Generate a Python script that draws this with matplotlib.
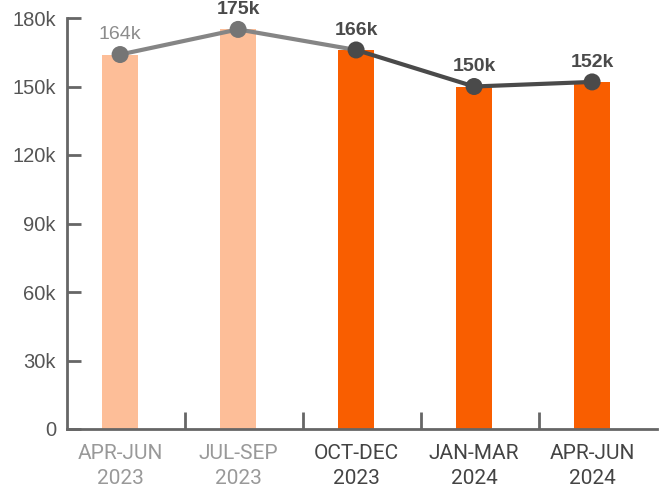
import numpy as np
import matplotlib.pyplot as plt

categories = ["APR-JUN\n2023", "JUL-SEP\n2023", "OCT-DEC\n2023", "JAN-MAR\n2024", "APR-JUN\n2024"]
values = [164000, 175000, 166000, 150000, 152000]
value_labels = ["164k", "175k", "166k", "150k", "152k"]
y_ticks = [0, 30000, 60000, 90000, 120000, 150000, 180000]
y_tick_labels = ["0", "30k", "60k", "90k", "120k", "150k", "180k"]

light = "#FDBE98"
dark = "#F95E00"
bar_colors = [light, light, dark, dark, dark]
label_colors = ["#999999", "#999999", "#444444", "#444444", "#444444"]

plt.rcParams['font.family'] = ['Liberation Sans', 'DejaVu Sans']

fig = plt.figure(figsize=(6.61, 4.91), dpi=100)
ax = fig.add_axes([67 / 661, 1 - 429 / 491, 590 / 661, 411 / 491])

x = np.arange(len(categories))
ax.bar(x, values, width=0.3, color=bar_colors, zorder=1)

# line: first segment lighter grey, later dark
ax.plot(x[:3], values[:3], color="#858585", lw=3, zorder=2, solid_capstyle="round")
ax.plot(x[2:], values[2:], color="#4a4a4a", lw=3, zorder=3, solid_capstyle="round")
mcolors = ["#757575", "#757575", "#4a4a4a", "#4a4a4a", "#4a4a4a"]
ax.scatter(x, values, s=150, c=mcolors, zorder=4, linewidths=0)

for i, (v, lab) in enumerate(zip(values, value_labels)):
    col = "#8c8c8c" if i == 0 else "#4a4a4a"
    wt = "normal" if i == 0 else "bold"
    ax.annotate(lab, (i, v), xytext=(0, 11), textcoords="offset points",
                ha="center", va="baseline", fontsize=14, color=col,
                fontweight=wt, annotation_clip=False)

ax.set_xlim(-0.45, 4.55)
ax.set_ylim(0, 180000)
ax.set_yticks(y_ticks)
ax.set_yticklabels(y_tick_labels, fontsize=14.5, color="#555555")
ax.tick_params(axis="y", direction="in", length=10, width=2, color="#666666", pad=8)

ax.set_xticks(x)
ax.set_xticklabels(categories, fontsize=15, linespacing=1.35, family=["Roboto", "DejaVu Sans"])
for t, c in zip(ax.get_xticklabels(), label_colors):
    t.set_color(c)
ax.tick_params(axis="x", length=0, pad=11)
ax.set_xticks(x[:-1] + 0.55, minor=True)
ax.tick_params(axis="x", which="minor", direction="in", length=12, width=2, color="#666666")

for side in ["top", "right"]:
    ax.spines[side].set_visible(False)
for side in ["left", "bottom"]:
    ax.spines[side].set_color("#666666")
    ax.spines[side].set_linewidth(2)

fig.savefig("out.png", dpi=100)
